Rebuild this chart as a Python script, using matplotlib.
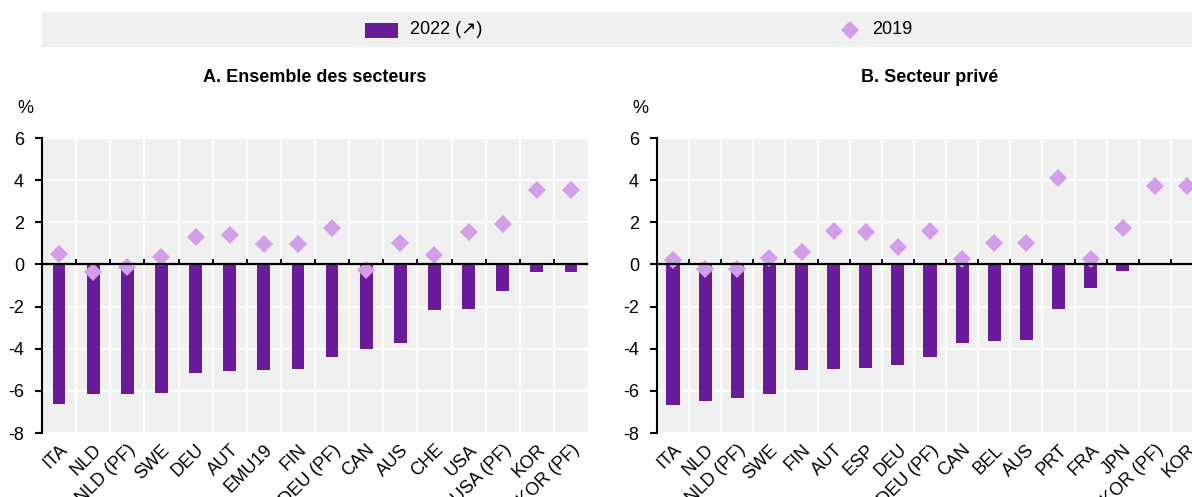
import matplotlib
matplotlib.use("Agg")
import matplotlib.pyplot as plt
from matplotlib import font_manager
from matplotlib.patches import Rectangle
from matplotlib.lines import Line2D
import numpy as np

installed = {f.name for f in font_manager.fontManager.ttflist}
base = "Liberation Sans Narrow" if "Liberation Sans Narrow" in installed else "Liberation Sans"
plt.rcParams['font.family'] = [base, 'DejaVu Sans']

# Panel A: all sectors
cats_a = ["ITA", "NLD", "NLD (PF)", "SWE", "DEU", "AUT", "EMU19", "FIN",
          "DEU (PF)", "CAN", "AUS", "CHE", "USA", "USA (PF)", "KOR", "KOR (PF)"]
v2022_a = [-6.60, -6.17, -6.17, -6.10, -5.13, -5.05, -5.02, -4.94,
           -4.38, -4.02, -3.73, -2.16, -2.10, -1.25, -0.38, -0.38]
v2019_a = [0.48, -0.34, -0.14, 0.37, 1.30, 1.42, 0.96, 0.96,
           1.73, -0.26, 1.02, 0.45, 1.54, 1.90, 3.55, 3.55]

# Panel B: private sector
cats_b = ["ITA", "NLD", "NLD (PF)", "SWE", "FIN", "AUT", "ESP", "DEU",
          "DEU (PF)", "CAN", "BEL", "AUS", "PRT", "FRA", "JPN", "KOR (PF)", "KOR"]
v2022_b = [-6.67, -6.46, -6.35, -6.13, -5.00, -4.98, -4.92, -4.75,
           -4.38, -3.73, -3.63, -3.60, -2.13, -1.13, -0.30, 0.0, 0.06]
v2019_b = [0.19, -0.24, -0.24, 0.32, 0.58, 1.57, 1.54, 0.83,
           1.60, 0.27, 1.02, 1.02, 4.10, 0.27, 1.73, 3.74, 3.74]

yticks = [6, 4, 2, 0, -2, -4, -6, -8]

BAR = "#6a1b9a"
DIAMOND = "#d29de9"
PANEL_BG = "#f0f0f0"
W, H = 1192, 497
FS = 14 if base.endswith("Narrow") else 13

fig = plt.figure(figsize=(W / 100, H / 100), dpi=100)


def px_axes(left, right, top, bottom):
    return fig.add_axes([left / W, 1 - bottom / H, (right - left) / W, (bottom - top) / H])


def draw_panel(ax, cats, bars, dots, title, width):
    n = len(cats)
    x = np.arange(n)
    ax.set_facecolor(PANEL_BG)
    ax.set_xlim(-0.5, n - 0.5)
    ax.set_ylim(-8, 6)
    ax.set_yticks(yticks)
    ax.set_yticklabels([str(t) for t in yticks], fontsize=FS)
    # grid: white lines at category boundaries and each y tick
    for b in np.arange(n - 1) + 0.5:
        ax.axvline(b, color="white", lw=1.5, zorder=1)
    for t in yticks:
        ax.axhline(t, color="white", lw=1.5, zorder=1)
    ax.bar(x, bars, width=width, color=BAR, zorder=3)
    ax.plot(x, dots, linestyle="none", marker="D", markersize=9.5,
            color=DIAMOND, markeredgewidth=0, zorder=4)
    ax.axhline(0, color="black", lw=1.6, zorder=5)
    ax.vlines(np.arange(n - 1) + 0.5, 0, 0.25, color="black", lw=1.3, zorder=5)
    for s in ["top", "right", "bottom"]:
        ax.spines[s].set_visible(False)
    ax.spines["left"].set_linewidth(1.5)
    ax.spines["left"].set_zorder(6)
    ax.tick_params(axis="y", length=5, width=1.5, pad=8, direction="out")
    ax.set_xticks(x)
    ax.set_xticklabels(cats, rotation=45, ha="right", va="top",
                       rotation_mode="anchor", fontsize=FS)
    ax.tick_params(axis="x", length=0, pad=6)
    ax.text(-0.045, 1.07, "%", transform=ax.transAxes, fontsize=FS,
            ha="left", va="bottom")
    ax.set_title(title, fontsize=FS, fontweight="bold", pad=40)


ax_a = px_axes(42, 588, 138, 433)
draw_panel(ax_a, cats_a, v2022_a, v2019_a, "A. Ensemble des secteurs", 0.37)

ax_b = px_axes(657, 1203, 138, 433)
draw_panel(ax_b, cats_b, v2022_b, v2019_b, "B. Secteur privé", 0.41)

# legend band across the top
fig.add_artist(Rectangle((42 / W, 1 - 47 / H), (W - 42) / W, 35 / H,
                         transform=fig.transFigure, facecolor=PANEL_BG,
                         edgecolor="none", zorder=0))
fig.add_artist(Rectangle((365 / W, 1 - 38 / H), 33 / W, 15 / H,
                         transform=fig.transFigure, facecolor=BAR,
                         edgecolor="none"))
fig.text(410 / W, 1 - 30 / H, "2022 (\u2197)", fontsize=FS, va="center", ha="left")
fig.add_artist(Line2D([850 / W], [1 - 30 / H], transform=fig.transFigure,
                      marker="D", markersize=9.5, color=DIAMOND,
                      markeredgewidth=0, linestyle="none"))
fig.text(872 / W, 1 - 30 / H, "2019", fontsize=FS, va="center", ha="left")

fig.savefig("out.png", dpi=100)
